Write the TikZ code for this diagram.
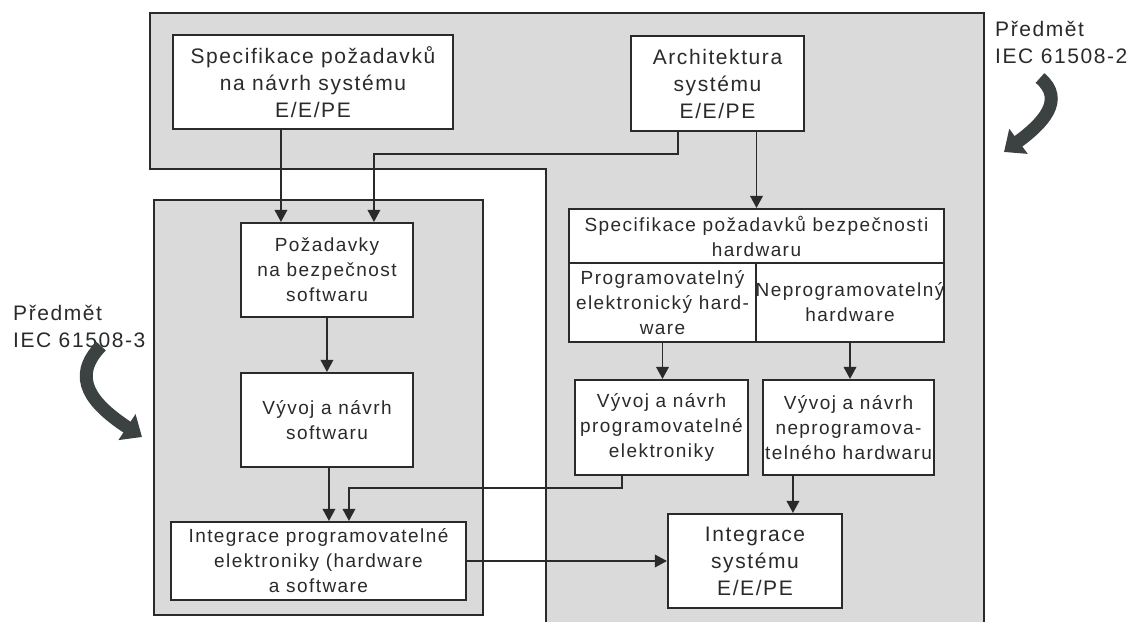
\documentclass[tikz,border=0pt]{standalone}
\usepackage{fontspec}
\setmainfont{Liberation Sans}[LetterSpace=7.5]
\usetikzlibrary{arrows.meta}
\definecolor{ink}{HTML}{2A2A2A}
\definecolor{zone}{HTML}{DADADA}
\definecolor{swirl}{HTML}{3C4242}
\begin{document}
\begin{tikzpicture}[x=1pt,y=-1pt,
  big/.style={font=\fontsize{21}{27}\selectfont},
  small/.style={font=\fontsize{19}{25}\selectfont},
  box/.style={draw=ink, line width=2.1pt, fill=white, text=ink, inner sep=0pt, align=center},
  zoneline/.style={draw=ink, line width=1.6pt},
  conn/.style={draw=ink, line width=1.8pt, -{Triangle[length=12pt,width=12.5pt]}},
  swirlarrow/.style={draw=swirl, line width=13pt, -{Triangle[length=18pt,width=30pt]}},
  label/.style={text=ink, inner sep=0pt, align=left, big}
]
\fill[white] (0,0) rectangle (1134,621);
\useasboundingbox (0,0) rectangle (1134,621);

% scope of IEC 61508-2: top band and right column
\begin{scope}
  \clip (0,0) rectangle (1134,621);
  \filldraw[fill=zone, zoneline] (150,13) -- (984,13) -- (984,640) -- (546,640)
    -- (546,169) -- (150,169) -- cycle;
\end{scope}
% scope of IEC 61508-3
\filldraw[fill=zone, zoneline] (154,200) rectangle (483,615);

% system level
\node[box, big, minimum width=280pt, minimum height=94pt] (spec) at (313,82)
  {Specifikace požadavků\\na návrh systému\\E/E/PE};
\node[box, big, minimum width=173pt, minimum height=95pt] (arch) at (717.5,83.5)
  {Architektura\\systému\\E/E/PE};

% software branch
\node[box, small, minimum width=172pt, minimum height=94pt] (swreq) at (327,270)
  {Požadavky\\na bezpečnost\\softwaru};
\node[box, small, minimum width=172pt, minimum height=94pt] (vyvsw) at (327,420)
  {Vývoj a návrh\\softwaru};
\node[box, small, minimum width=295pt, minimum height=78pt] (intprog) at (318.5,561)
  {Integrace programovatelné\\elektroniky (hardware\\a software};

% hardware branch
\node[box, small, minimum width=375pt, minimum height=54pt] (hwtop) at (756.5,236)
  {Specifikace požadavků bezpečnosti\\hardwaru};
\node[box, small, minimum width=187pt, minimum height=79pt] (hwprog) at (662.5,302.5)
  {Programovatelný\\elektronický hard-\\ware};
\node[box, small, minimum width=188pt, minimum height=79pt] (hwnon) at (850,302.5)
  {Neprogramovatelný\\hardware};
\node[box, small, minimum width=173pt, minimum height=95pt] (vyvprog) at (661.5,427.5)
  {Vývoj a návrh\\programovatelné\\elektroniky};
\node[box, small, minimum width=171pt, minimum height=95pt] (vyvnon) at (848.5,427.5)
  {Vývoj a návrh\\neprogramova-\\telného hardwaru};
\node[box, big, minimum width=174pt, minimum height=94pt] (intsys) at (755,561)
  {Integrace\\systému\\E/E/PE};

% connector attachment points
\coordinate (p1) at ([xshift=41pt]swreq.north west);
\coordinate (a1) at ([xshift=48pt]arch.south west);
\coordinate (a2) at ([xshift=134pt]swreq.north west);
\coordinate (s1) at ([xshift=87pt]swreq.south west);
\coordinate (s2) at ([xshift=89pt]vyvsw.south west);
\coordinate (e1) at ([xshift=48pt]vyvprog.south west);
\coordinate (e2) at ([xshift=179pt]intprog.north west);
\coordinate (n1) at ([xshift=31pt]vyvnon.south west);

% connectors
\draw[conn] (p1 |- spec.south) -- (p1);
\draw[conn] (a1) -- ++(0,22) -| (a2);
\draw[conn] (hwtop.north |- arch.south) -- (hwtop.north);
\draw[conn] (s1) -- (s1 |- vyvsw.north);
\draw[conn] (s2) -- (s2 |- intprog.north);
\draw[conn] (e1) -- ++(0,12) -| (e2);
\draw[conn] (hwprog.south) -- (hwprog.south |- vyvprog.north);
\draw[conn] (hwnon.south) -- (hwnon.south |- vyvnon.north);
\draw[conn] (n1) -- (n1 |- intsys.north);
\draw[conn] (intprog.east) -- (intprog.east -| intsys.west);

% scope labels with their curved arrows
\node[label, anchor=north west] (l2) at (995,21) {Předmět\\IEC 61508-2};
\node[label, anchor=north west] (l3) at (13,305) {Předmět\\IEC 61508-3};
\draw[swirlarrow] (1040,78) .. controls (1066,100) and (1042,124) .. (1004,152);
\draw[swirlarrow] (101,346) .. controls (70,378) and (92,404) .. (142,437);
\end{tikzpicture}
\end{document}
